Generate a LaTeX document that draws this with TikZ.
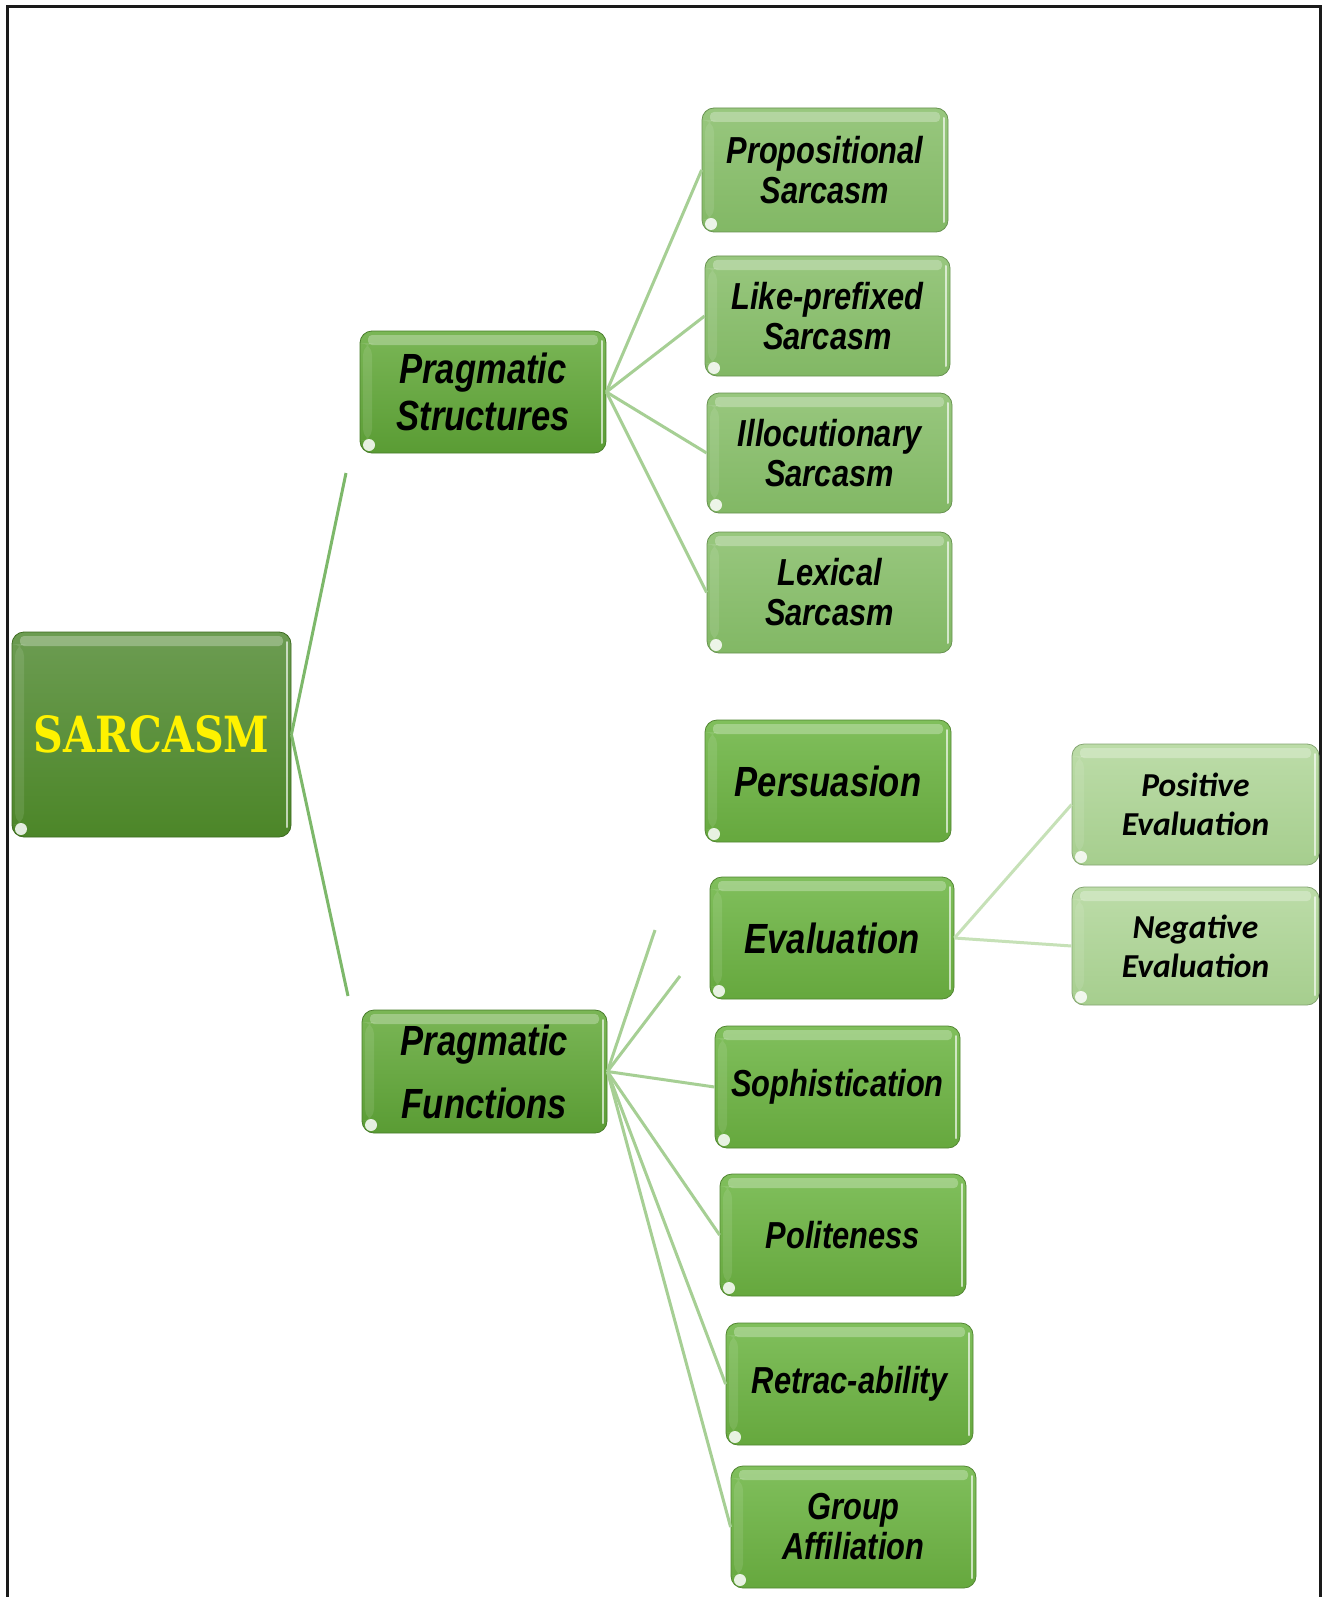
\documentclass[tikz,border=0pt]{standalone}
\usepackage{fontspec}
\newfontfamily\lblfont[FakeStretch=0.82]{Liberation Sans}
\newfontfamily\subfont{Carlito}
\newfontfamily\headfont{DejaVu Serif}

\definecolor{frameC}{HTML}{1A1A1A}
\definecolor{rootTop}{HTML}{6C9C52}
\definecolor{rootBot}{HTML}{4C8628}
\definecolor{midTop}{HTML}{7AB656}
\definecolor{midBot}{HTML}{5A9C34}
\definecolor{pstTop}{HTML}{98C77E}
\definecolor{pstBot}{HTML}{82B865}
\definecolor{fnTop}{HTML}{80BF5C}
\definecolor{fnBot}{HTML}{66A83E}
\definecolor{evTop}{HTML}{BCDCA8}
\definecolor{evBot}{HTML}{A6CE8E}
\definecolor{lineA}{HTML}{7DB86A}
\definecolor{lineB}{HTML}{A6CF94}
\definecolor{lineC}{HTML}{C6E1B7}

\tikzset{
  glossy/.style 2 args={rectangle, rounded corners=12pt, inner sep=0pt, align=center,
    top color=#1, bottom color=#2, draw=#2!80!black, line width=0.8pt,
    path picture={
      \fill[white, opacity=0.28, rounded corners=4pt]
        ([shift={(8pt,-4pt)}]path picture bounding box.north west) rectangle
        ([shift={(-8pt,-14pt)}]path picture bounding box.north east);
      \fill[white, opacity=0.10]
        ([shift={(3pt,-12pt)}]path picture bounding box.north west) rectangle
        ([shift={(12pt,12pt)}]path picture bounding box.south west);
      \draw[white, opacity=0.65, line width=2pt, line cap=round]
        ([shift={(-4pt,-10pt)}]path picture bounding box.north east) --
        ([shift={(-4pt,10pt)}]path picture bounding box.south east);
      \fill[white, opacity=0.85]
        ([shift={(9pt,8pt)}]path picture bounding box.south west) circle (6pt);
    }},
  rootbox/.style={glossy={rootTop}{rootBot}},
  midbox/.style={glossy={midTop}{midBot}},
  pstbox/.style={glossy={pstTop}{pstBot}},
  fnbox/.style={glossy={fnTop}{fnBot}},
  evbox/.style={glossy={evTop}{evBot}},
  sz/.style 2 args={minimum width=#1pt, minimum height=#2pt},
  lbl/.style={font={\lblfont\bfseries\itshape\fontsize{37.6}{40}\selectfont}},
  biglbl/.style={font={\lblfont\bfseries\itshape\fontsize{42.2}{47}\selectfont}},
  sublbl/.style={font={\subfont\bfseries\itshape\fontsize{33.5}{39}\selectfont}},
  linkA/.style={draw=lineA, line width=3pt},
  linkB/.style={draw=lineB, line width=3pt},
  linkC/.style={draw=lineC, line width=3pt},
}

\begin{document}
\begin{tikzpicture}[x=1pt, y=-1pt]
\useasboundingbox (0,0) rectangle (1323,1597);
\fill[white] (0,0) rectangle (1323,1597);

% outer frame, open at the bottom
\draw[frameC, line width=3pt] (7,1597) -- (7,7) -- (1320,7) -- (1320,1597);

% root
\node[rootbox, sz={279}{205}] (sarc) at (151.5,734.5)
  {\resizebox{236pt}{37pt}{\color{yellow}\headfont\bfseries SARCASM}};

% second level
\node[midbox, sz={246}{122}, biglbl] (ps) at (483,392) {Pragmatic\\Structures};
\node[midbox, sz={245}{123}, font={\lblfont\bfseries\itshape\fontsize{42.2}{63}\selectfont}]
  (pf) at (484.5,1071.5) {Pragmatic\\Functions};

% pragmatic structures
\node[pstbox, sz={246}{124}, lbl] (prop) at (825,170) {Propositional\\Sarcasm};
\node[pstbox, sz={245}{120}, lbl] (like) at (827.5,316) {Like-prefixed\\Sarcasm};
\node[pstbox, sz={245}{120}, lbl] (illo) at (829.5,453) {Illocutionary\\Sarcasm};
\node[pstbox, sz={245}{121}, lbl] (lex) at (829.5,592.5) {Lexical\\Sarcasm};

% pragmatic functions
\node[fnbox, sz={246}{122}, biglbl] (pers) at (828,781) {Persuasion};
\node[fnbox, sz={244}{122}, biglbl] (eval) at (832,938) {Evaluation};
\node[fnbox, sz={245}{122}, lbl] (soph) at (837.5,1087) {Sophistication};
\node[fnbox, sz={246}{122}, lbl] (pol) at (843,1235) {Politeness};
\node[fnbox, sz={247}{122}, lbl] (ret) at (849.5,1384) {Retrac-ability};
\node[fnbox, sz={245}{122}, lbl] (grp) at (853.5,1527) {Group\\Affiliation};

% evaluation
\node[evbox, sz={247}{121}, sublbl] (pos) at (1195.5,804.5) {Positive\\Evaluation};
\node[evbox, sz={247}{118}, sublbl] (neg) at (1195.5,946) {Negative\\Evaluation};

% loose connector ends
\coordinate (sarcUp) at (346,473);
\coordinate (sarcDown) at (348,996);
\coordinate (pfA) at (655,930);
\coordinate (pfB) at (680,976);

% connectors
\draw[linkA] (sarc.east) -- (sarcUp);
\draw[linkA] (sarc.east) -- (sarcDown);
\foreach \t in {prop,like,illo,lex}
  \draw[linkB] (ps.east) -- (\t.west);
\foreach \t in {pfA,pfB}
  \draw[linkB] (pf.east) -- (\t);
\foreach \t in {soph,pol,ret,grp}
  \draw[linkB] (pf.east) -- (\t.west);
\draw[linkC] (eval.east) -- (pos.west);
\draw[linkC] (eval.east) -- (neg.west);
\end{tikzpicture}
\end{document}
